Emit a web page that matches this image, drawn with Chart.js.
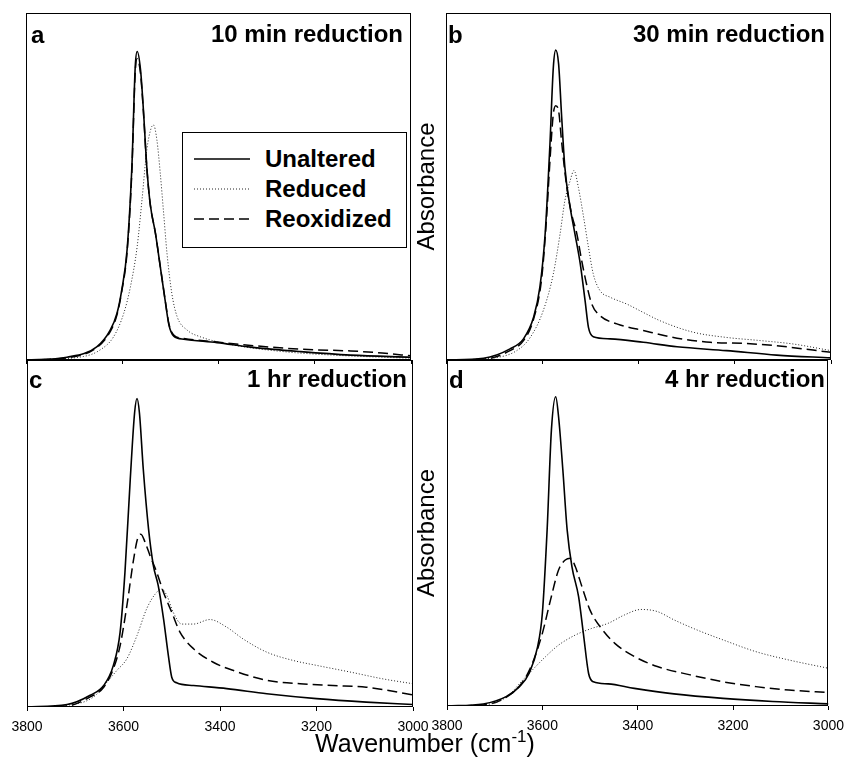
<!DOCTYPE html>
<html>
<head>
<meta charset="utf-8">
<script src="https://cdn.jsdelivr.net/npm/chart.js@4.4.1/dist/chart.umd.min.js"></script>
<style>
  html, body { margin: 0; padding: 0; background: #fff; }
  #fig { position: relative; width: 846px; height: 762px; overflow: hidden;
         font-family: "Liberation Sans", Arial, sans-serif; color: #000; }
  canvas { position: absolute; }
  .tag { position: absolute; font-weight: bold; font-size: 24px; line-height: 24px; white-space: nowrap; }
  .xtitle { position: absolute; left: 0; width: 850px; top: 731px; text-align: center;
            font-size: 25px; line-height: 25px; white-space: nowrap; }
  .xtitle sup { font-size: 17px; line-height: 0; vertical-align: 10px; }
  #legend { position: absolute; left: 182px; top: 132px; width: 225px; height: 116px;
            box-sizing: border-box; border: 1px solid #000; background: #fff; padding-top: 11px; }
  #legend .row { display: flex; align-items: center; height: 30px; }
  #legend svg { margin-left: 11px; }
  #legend span { margin-left: 15px; font-weight: bold; font-size: 24px; line-height: 30px; }
</style>
</head>
<body>
<div id="fig">
  <canvas id="cA" width="432" height="380" style="left:0;top:0"></canvas>
  <canvas id="cB" width="440" height="380" style="left:406px;top:0"></canvas>
  <canvas id="cC" width="440" height="422" style="left:0;top:340px"></canvas>
  <canvas id="cD" width="446" height="422" style="left:406px;top:340px"></canvas>

  <div class="tag" style="left:31px;top:23px">a</div>
  <div class="tag" style="right:443px;top:22px">10 min reduction</div>
  <div class="tag" style="left:448px;top:23px">b</div>
  <div class="tag" style="right:21px;top:22px">30 min reduction</div>
  <div class="tag" style="left:29px;top:368px">c</div>
  <div class="tag" style="right:439px;top:367px">1 hr reduction</div>
  <div class="tag" style="left:449px;top:368px">d</div>
  <div class="tag" style="right:21px;top:367px">4 hr reduction</div>

  <div id="legend"></div>
  <div class="xtitle">Wavenumber (cm<sup>-1</sup>)</div>
</div>

<script>
// wavenumber (cm-1) and absorbance (relative, 0..1 of panel height)

// a: 10 min reduction
const aUnalteredCm = [3800, 3715, 3653, 3625, 3611, 3601, 3590, 3580, 3573, 3569, 3562, 3556, 3549, 3542, 3531, 3521, 3510, 3503, 3493, 3472, 3403, 3333, 3229, 3125, 3000];
const aUnalteredAbs = [0, 0.008, 0.038, 0.086, 0.134, 0.202, 0.317, 0.557, 0.845, 0.889, 0.836, 0.72, 0.557, 0.451, 0.365, 0.269, 0.163, 0.101, 0.069, 0.06, 0.05, 0.037, 0.024, 0.014, 0.008];
const aReducedCm = [3800, 3681, 3646, 3618, 3597, 3583, 3569, 3559, 3549, 3540, 3535, 3528, 3521, 3514, 3507, 3497, 3486, 3465, 3438, 3368, 3264, 3160, 3000];
const aReducedAbs = [0, 0.01, 0.029, 0.067, 0.134, 0.211, 0.327, 0.461, 0.605, 0.668, 0.677, 0.634, 0.538, 0.423, 0.307, 0.192, 0.125, 0.086, 0.067, 0.043, 0.024, 0.014, 0.005];
const aReoxCm = [3800, 3715, 3653, 3625, 3611, 3601, 3590, 3580, 3573, 3569, 3562, 3556, 3549, 3542, 3531, 3521, 3510, 3503, 3493, 3472, 3403, 3333, 3229, 3125, 3060, 3000];
const aReoxAbs = [0, 0.006, 0.036, 0.082, 0.13, 0.198, 0.31, 0.545, 0.83, 0.868, 0.825, 0.715, 0.555, 0.45, 0.365, 0.27, 0.165, 0.104, 0.072, 0.062, 0.052, 0.042, 0.031, 0.026, 0.02, 0.012];

// b: 30 min reduction
const bUnalteredCm = [3800, 3722, 3667, 3639, 3618, 3605, 3594, 3584, 3577, 3572, 3566, 3560, 3553, 3542, 3532, 3521, 3511, 3504, 3494, 3459, 3390, 3320, 3217, 3113, 3000];
const bUnalteredAbs = [0, 0.005, 0.032, 0.061, 0.123, 0.209, 0.363, 0.622, 0.843, 0.893, 0.853, 0.709, 0.555, 0.44, 0.363, 0.277, 0.171, 0.094, 0.067, 0.061, 0.051, 0.038, 0.027, 0.014, 0.006];
const bReducedCm = [3800, 3702, 3653, 3625, 3598, 3577, 3563, 3553, 3542, 3534, 3525, 3514, 3504, 3494, 3480, 3459, 3424, 3390, 3355, 3286, 3217, 3147, 3078, 3000];
const bReducedAbs = [0, 0.006, 0.027, 0.065, 0.142, 0.248, 0.363, 0.459, 0.517, 0.546, 0.498, 0.411, 0.325, 0.248, 0.2, 0.181, 0.161, 0.137, 0.113, 0.08, 0.065, 0.056, 0.046, 0.027];
const bReoxCm = [3800, 3722, 3667, 3639, 3618, 3601, 3591, 3584, 3577, 3572, 3566, 3560, 3549, 3539, 3528, 3518, 3508, 3497, 3480, 3445, 3390, 3320, 3251, 3182, 3113, 3000];
const bReoxAbs = [0, 0.002, 0.027, 0.056, 0.118, 0.238, 0.411, 0.574, 0.709, 0.733, 0.718, 0.632, 0.498, 0.421, 0.363, 0.286, 0.219, 0.161, 0.128, 0.104, 0.085, 0.063, 0.051, 0.048, 0.041, 0.022];

// c: 1 hr reduction
const cUnalteredCm = [3800, 3717, 3669, 3641, 3621, 3607, 3597, 3586, 3577, 3572, 3567, 3559, 3548, 3538, 3528, 3517, 3507, 3500, 3490, 3455, 3386, 3303, 3200, 3097, 3000];
const cUnalteredAbs = [0, 0.007, 0.034, 0.062, 0.12, 0.216, 0.388, 0.656, 0.848, 0.889, 0.848, 0.685, 0.512, 0.407, 0.35, 0.254, 0.148, 0.086, 0.07, 0.062, 0.053, 0.038, 0.024, 0.014, 0.007];
const cReducedCm = [3800, 3717, 3662, 3634, 3614, 3593, 3572, 3552, 3534, 3521, 3510, 3497, 3479, 3455, 3421, 3386, 3352, 3303, 3248, 3200, 3131, 3062, 3000];
const cReducedAbs = [0, 0.005, 0.029, 0.072, 0.105, 0.139, 0.206, 0.283, 0.326, 0.34, 0.321, 0.273, 0.239, 0.239, 0.252, 0.23, 0.196, 0.158, 0.134, 0.12, 0.101, 0.081, 0.067];
const cReoxCm = [3800, 3717, 3669, 3641, 3621, 3607, 3593, 3579, 3571, 3564, 3555, 3545, 3531, 3517, 3500, 3483, 3455, 3414, 3372, 3303, 3234, 3166, 3097, 3000];
const cReoxAbs = [0, 0.003, 0.029, 0.057, 0.11, 0.177, 0.292, 0.426, 0.484, 0.498, 0.474, 0.436, 0.388, 0.33, 0.273, 0.216, 0.168, 0.129, 0.105, 0.077, 0.067, 0.062, 0.057, 0.035];

// d: 4 hr reduction
const dUnalteredCm = [3800, 3724, 3676, 3648, 3628, 3610, 3600, 3590, 3581, 3572, 3566, 3557, 3548, 3538, 3524, 3514, 3503, 3493, 3462, 3407, 3324, 3221, 3117, 3000];
const dUnalteredAbs = [0, 0.006, 0.027, 0.056, 0.094, 0.171, 0.268, 0.509, 0.798, 0.894, 0.836, 0.682, 0.509, 0.403, 0.316, 0.21, 0.094, 0.07, 0.064, 0.051, 0.035, 0.022, 0.013, 0.006];
const dReducedCm = [3800, 3724, 3676, 3641, 3621, 3593, 3566, 3531, 3497, 3462, 3428, 3393, 3359, 3324, 3276, 3221, 3152, 3083, 3000];
const dReducedAbs = [0, 0.003, 0.025, 0.075, 0.104, 0.143, 0.176, 0.205, 0.224, 0.239, 0.263, 0.279, 0.273, 0.249, 0.22, 0.191, 0.157, 0.133, 0.109];
const dReoxCm = [3800, 3724, 3676, 3641, 3621, 3600, 3583, 3566, 3552, 3541, 3531, 3517, 3500, 3476, 3448, 3407, 3359, 3290, 3221, 3152, 3083, 3000];
const dReoxAbs = [0, 0.003, 0.025, 0.07, 0.123, 0.21, 0.306, 0.393, 0.422, 0.427, 0.403, 0.345, 0.277, 0.224, 0.181, 0.143, 0.114, 0.09, 0.07, 0.056, 0.046, 0.039];

const seriesNames = ["Unaltered", "Reduced", "Reoxidized"];
const seriesStyle = [
  { borderWidth: 1.6, borderDash: [], borderColor: "#000" },
  { borderWidth: 1, borderDash: [1, 2], borderColor: "#222" },
  { borderWidth: 1.5, borderDash: [10, 5], borderColor: "#000" }
];

function toPoints(xs, ys) {
  return xs.map((x, i) => ({ x: x, y: ys[i] }));
}

// box round the plot area
const framePlugin = {
  id: "frame",
  afterDatasetsDraw(chart) {
    const { ctx, chartArea } = chart;
    ctx.save();
    ctx.strokeStyle = "#000";
    ctx.lineWidth = 1;
    ctx.strokeRect(Math.round(chartArea.left) + 0.5, Math.round(chartArea.top) + 0.5,
      Math.round(chartArea.right - chartArea.left) - 1, Math.round(chartArea.bottom - chartArea.top) - 1);
    ctx.restore();
  }
};

function makePanel(id, curves, cfg) {
  const datasets = curves.map((c, i) => Object.assign({
    label: seriesNames[i],
    data: toPoints(c[0], c[1]),
    pointRadius: 0,
    fill: false,
    cubicInterpolationMode: "monotone"
  }, seriesStyle[i]));

  return new Chart(document.getElementById(id), {
    type: "line",
    data: { datasets: datasets },
    plugins: [framePlugin],
    options: {
      responsive: false,
      animation: false,
      events: [],
      layout: { padding: { left: 0, top: cfg.top, right: cfg.right, bottom: 0 } },
      plugins: { legend: { display: false }, tooltip: { enabled: false } },
      scales: {
        x: {
          type: "linear",
          reverse: true,
          min: 3000,
          max: 3800,
          border: { display: false },
          grid: { drawOnChartArea: false, drawTicks: true, tickLength: 4, color: "#000" },
          ticks: {
            display: cfg.labels,
            stepSize: 200,
            padding: 8,
            color: "#000",
            font: { family: "Liberation Sans", size: 14 },
            callback: (v) => String(v)
          },
          afterFit: (s) => { s.height = cfg.xh; }
        },
        y: {
          min: 0,
          max: 1,
          border: { display: false },
          grid: { display: false },
          ticks: { display: false },
          title: {
            display: cfg.ytitle,
            text: "Absorbance",
            color: "#000",
            padding: { top: 7, bottom: 0 },
            font: { family: "Liberation Sans", size: 24 }
          },
          afterFit: (s) => { s.width = cfg.yw; }
        }
      }
    }
  });
}

const chartA = makePanel("cA", [[aUnalteredCm, aUnalteredAbs], [aReducedCm, aReducedAbs], [aReoxCm, aReoxAbs]],
  { top: 13, right: 21, yw: 26, xh: 20, labels: false, ytitle: false });
makePanel("cB", [[bUnalteredCm, bUnalteredAbs], [bReducedCm, bReducedAbs], [bReoxCm, bReoxAbs]],
  { top: 13, right: 15, yw: 40, xh: 20, labels: false, ytitle: true });
makePanel("cC", [[cUnalteredCm, cUnalteredAbs], [cReducedCm, cReducedAbs], [cReoxCm, cReoxAbs]],
  { top: 20, right: 27, yw: 27, xh: 55, labels: true, ytitle: false });
makePanel("cD", [[dUnalteredCm, dUnalteredAbs], [dReducedCm, dReducedAbs], [dReoxCm, dReoxAbs]],
  { top: 20, right: 19, yw: 41, xh: 56, labels: true, ytitle: true });

// legend box inside panel a, built from its datasets
const legendEl = document.getElementById("legend");
chartA.data.datasets.forEach((ds) => {
  const row = document.createElement("div");
  row.className = "row";
  const dash = ds.borderDash.length ? ds.borderDash.join(" ") : "none";
  row.innerHTML =
    '<svg width="56" height="4"><line x1="0" y1="2" x2="56" y2="2" stroke="' + ds.borderColor +
    '" stroke-width="' + ds.borderWidth + '" stroke-dasharray="' + dash + '"/></svg>' +
    "<span>" + ds.label + "</span>";
  legendEl.appendChild(row);
});
</script>
</body>
</html>
